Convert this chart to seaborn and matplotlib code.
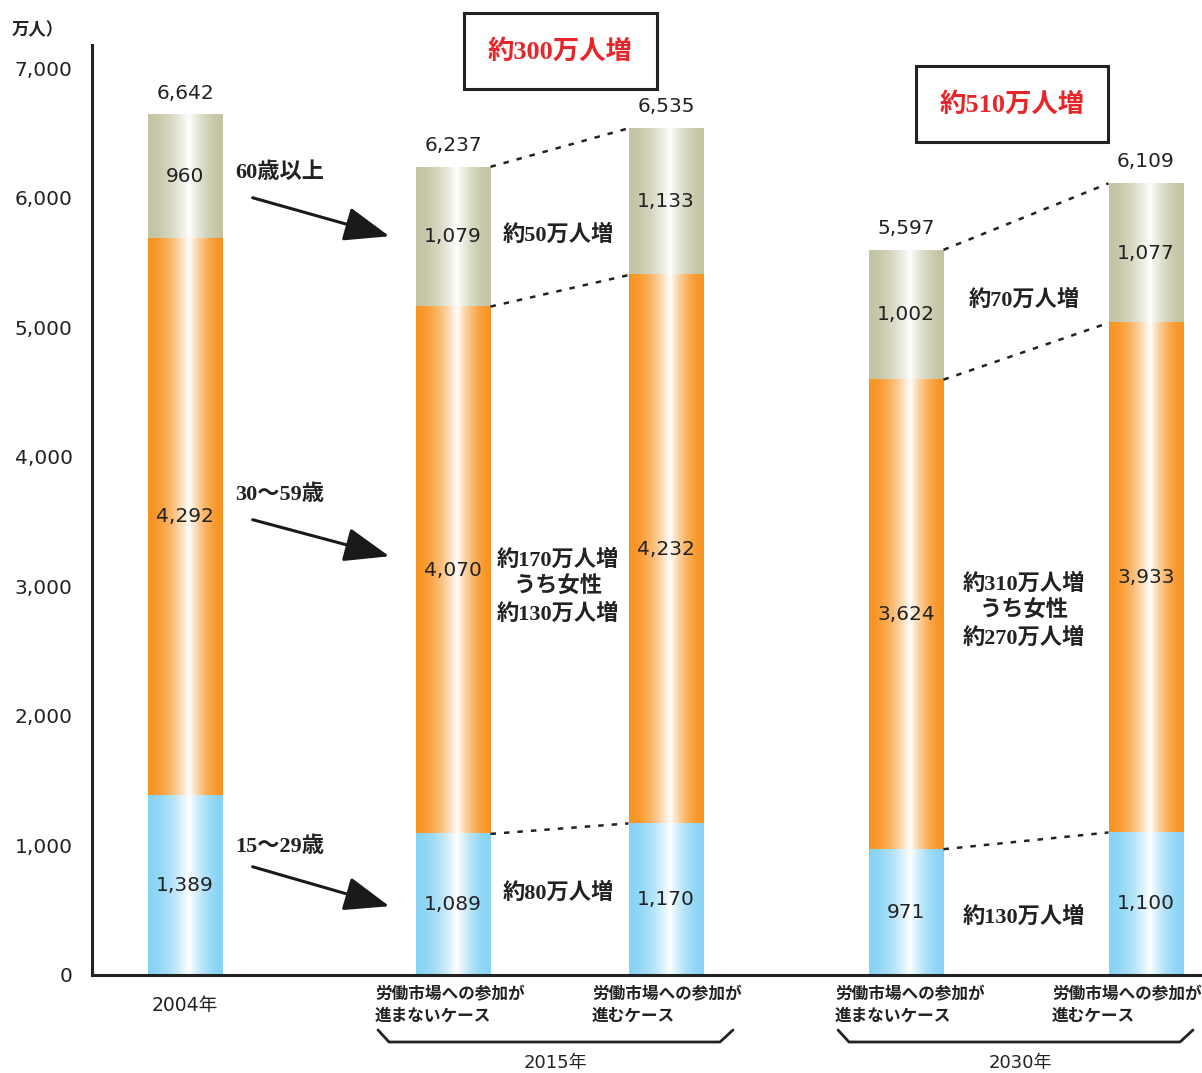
import numpy as np
import pandas as pd
import matplotlib
matplotlib.use("Agg")
import matplotlib.pyplot as plt
import seaborn as sns
from matplotlib.patches import Rectangle, FancyArrowPatch
from matplotlib.lines import Line2D

# ---------------- data ----------------
categories = ["2004年", "2015年 進まない", "2015年 進む", "2030年 進まない", "2030年 進む"]
age_15_29 = [1389, 1089, 1170, 971, 1100]
age_30_59 = [4292, 4070, 4232, 3624, 3933]
age_60_plus = [960, 1079, 1133, 1002, 1077]
total_labels = ["6,642", "6,237", "6,535", "5,597", "6,109"]
y_ticks = [0, 1000, 2000, 3000, 4000, 5000, 6000, 7000]
y_tick_labels = ["0", "1,000", "2,000", "3,000", "4,000", "5,000", "6,000", "7,000"]
x_main_label = "2004年"
case_labels = ["労働市場への参加が\n進まないケース", "労働市場への参加が\n進むケース",
               "労働市場への参加が\n進まないケース", "労働市場への参加が\n進むケース"]
year_labels = ["2015年", "2030年"]
age_names = ["60歳以上", "30〜59歳", "15〜29歳"]
diff_2015 = ["約50万人増", "約170万人増\nうち女性\n約130万人増", "約80万人増"]
diff_2030 = ["約70万人増", "約310万人増\nうち女性\n約270万人増", "約130万人増"]
box_texts = ["約300万人増", "約510万人増"]

# ---------------- layout ----------------
W, H = 1202, 1073
bar_centers = [185, 453, 666, 906, 1146]  # pixel-like x positions
bar_width = 75

def F(x, y):
    return (x / W, 1 - y / H)

sns.set_style("white")
plt.rcParams["font.family"] = ["DejaVu Sans", "Noto Sans CJK JP"]
SERIF = ["Liberation Serif", "Noto Sans CJK JP"]
TXT = "#222222"
NUM = 14.5

fig = plt.figure(figsize=(W / 100, H / 100), dpi=100)
ax = fig.add_axes([92 / W, (H - 975) / H, (W - 92) / W, 930 / H])

low = np.array(age_15_29)
mid = low + np.array(age_30_59)
top = mid + np.array(age_60_plus)
df = pd.DataFrame({"x": bar_centers, "low": low, "mid": mid, "top": top})

min_gap = np.min(np.diff(sorted(bar_centers)))
wfrac = bar_width / min_gap
for col in ["top", "mid", "low"]:
    sns.barplot(data=df, x="x", y=col, native_scale=True, width=wfrac,
                color="grey", errorbar=None, ax=ax)

colors = {"top": (0.765, 0.77, 0.64), "mid": (0.97, 0.58, 0.13), "low": (0.53, 0.83, 0.96)}
patches = list(ax.patches)
groups = {"top": patches[0:5], "mid": patches[5:10], "low": patches[10:15]}
bottoms = {"top": "mid", "mid": "low", "low": None}

t = np.linspace(0, 1, 300)
peak = 0.55
wl = np.where(t <= peak, t / peak, (1 - t) / (1 - peak))
wl = np.clip(wl, 0, 1) ** 1.8

bar_geo = {}
for key in ["top", "mid", "low"]:
    plist = sorted(groups[key], key=lambda p: p.get_x())
    blist = sorted(groups[bottoms[key]], key=lambda p: p.get_x()) if bottoms[key] else None
    c = np.array(colors[key])
    grad = c[None, :] * (1 - wl[:, None]) + wl[:, None]
    img = grad[None, :, :]
    for i, p in enumerate(plist):
        x0, w, h = p.get_x(), p.get_width(), p.get_height()
        b = blist[i].get_height() if blist else 0
        ax.imshow(img, extent=[x0, x0 + w, b, h], aspect="auto", zorder=2,
                  interpolation="bilinear")
        p.set_visible(False)
        bar_geo[i] = (x0, w)

ax.set_xlim(92, W)
ax.set_ylim(0, 7178)
ax.set_yticks(y_ticks)
ax.set_yticklabels(y_tick_labels, fontsize=NUM, color=TXT)
ax.set_xticks([])
ax.set_xlabel("")
ax.set_ylabel("")
ax.tick_params(axis="y", length=0, pad=14)
for s in ["top", "right"]:
    ax.spines[s].set_visible(False)
for s in ["left", "bottom"]:
    ax.spines[s].set_color("#222222")
    ax.spines[s].set_linewidth(2.2)

# segment value labels and totals
for i in range(5):
    xc = bar_centers[i]
    ax.text(xc, low[i] / 2, f"{age_15_29[i]:,}", ha="center", va="center", fontsize=NUM, color=TXT, zorder=5)
    ax.text(xc, (low[i] + mid[i]) / 2, f"{age_30_59[i]:,}", ha="center", va="center", fontsize=NUM, color=TXT, zorder=5)
    ax.text(xc, (mid[i] + top[i]) / 2, f"{age_60_plus[i]:,}", ha="center", va="center", fontsize=NUM, color=TXT, zorder=5)
    ax.text(xc, top[i] + 165, total_labels[i], ha="center", va="center", fontsize=NUM, color=TXT, zorder=5)

# dotted connectors
for a, b in [(1, 2), (3, 4)]:
    xa = bar_geo[a][0] + bar_geo[a][1]
    xb = bar_geo[b][0]
    for lev in [low, mid, top]:
        ax.plot([xa, xb], [lev[a], lev[b]], color=TXT, lw=1.8, ls=(0, (2.2, 3.2)), zorder=3)

# age labels and arrows
for name, ty, (p0, p1) in zip(age_names, [173, 495, 847],
                             [((250, 197), (392, 237)), ((250, 519), (392, 557)), ((250, 866), (392, 907))]):
    fig.text(*F(235, ty), name, ha="left", va="center", fontsize=16, family=SERIF, weight="bold", color=TXT)
    arr = FancyArrowPatch(F(*p0), F(*p1), transform=fig.transFigure,
                          arrowstyle="-|>,head_length=1.0,head_width=0.38", mutation_scale=28,
                          lw=2.2, color="#1a1a1a")
    fig.add_artist(arr)

# increase annotations
for txts, xc, ys in [(diff_2015, 558, [235, 587, 893]), (diff_2030, 1024, [300, 611, 917])]:
    for s, yy in zip(txts, ys):
        fig.text(*F(xc, yy), s, ha="center", va="center", fontsize=16, family=SERIF,
                 weight="bold", color=TXT, linespacing=1.35)

# red boxed texts
for s, (x0, y0, x1, y1) in zip(box_texts, [(464, 13, 657, 89), (916, 66, 1108, 142)]):
    fig.add_artist(Rectangle(F(x0, y1), (x1 - x0) / W, (y1 - y0) / H, transform=fig.transFigure,
                             fill=False, ec="#222222", lw=2.2))
    fig.text(*F((x0 + x1) / 2, (y0 + y1) / 2), s, ha="center", va="center", fontsize=19,
             family=SERIF, weight="bold", color="#e8262a")

# unit label
fig.text(*F(12, 30), "万人）", ha="left", va="center", fontsize=12.5, weight="bold", color=TXT)

# x labels
fig.text(*F(185, 1005), x_main_label, ha="center", va="center", fontsize=13.5, color=TXT)
for s, xl in zip(case_labels, [375, 592, 835, 1052]):
    fig.text(*F(xl, 1005), s, ha="left", va="center", fontsize=12, weight="bold",
             color=TXT, linespacing=1.2)
for s, xc in zip(year_labels, [555, 1020]):
    fig.text(*F(xc, 1063), s, ha="center", va="center", fontsize=13, color=TXT)
for pts in [[(378, 1030), (389, 1042), (720, 1042), (733, 1030)],
            [(838, 1030), (849, 1042), (1180, 1042), (1193, 1030)]]:
    xs = [p[0] / W for p in pts]
    ys = [1 - p[1] / H for p in pts]
    fig.add_artist(Line2D(xs, ys, transform=fig.transFigure, color=TXT, lw=2))

fig.savefig("out.png", dpi=100)
